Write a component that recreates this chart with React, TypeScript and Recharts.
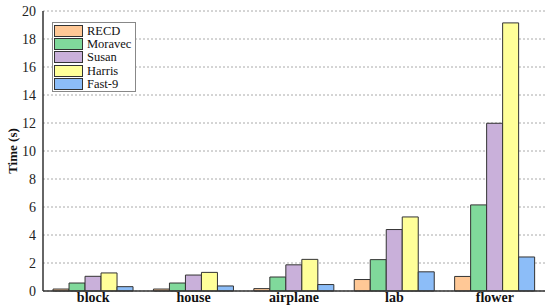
import { BarChart, Bar, XAxis, YAxis, CartesianGrid } from "recharts";

const CATEGORIES = ["block", "house", "airplane", "lab", "flower"];
const RECD = [0.14, 0.14, 0.17, 0.82, 1.04];
const MORAVEC = [0.57, 0.57, 1.0, 2.24, 6.15];
const SUSAN = [1.05, 1.14, 1.87, 4.39, 11.98];
const HARRIS = [1.29, 1.33, 2.26, 5.29, 19.15];
const FAST9 = [0.31, 0.36, 0.46, 1.37, 2.43];
const Y_TICKS = [0, 2, 4, 6, 8, 10, 12, 14, 16, 18, 20];

const SERIES = [
  { key: "RECD", values: RECD, color: "#FFC896" },
  { key: "Moravec", values: MORAVEC, color: "#80D99B" },
  { key: "Susan", values: SUSAN, color: "#C9B0DA" },
  { key: "Harris", values: HARRIS, color: "#FFFF99" },
  { key: "Fast-9", values: FAST9, color: "#8CBDF8" },
];

const data = CATEGORIES.map((name, i) => {
  const row: Record<string, string | number> = { name };
  SERIES.forEach((s) => (row[s.key] = s.values[i]));
  return row;
});

const FONT = "Liberation Serif, serif";
const AXIS = "#333";

const NoTick = () => <g />;

// legend drawn as an overlay so recharts doesn't reserve space for it
function LegendBox() {
  return (
    <div style={{ position: "absolute", left: 52, top: 22, border: "1px solid #888", background: "#fff", padding: "1px 4px 0 1px", fontFamily: FONT, fontSize: 12.5, color: "#111" }}>
      {SERIES.map((s) => (
        <div key={s.key} style={{ display: "flex", alignItems: "center", height: 13.4, lineHeight: "12px", whiteSpace: "nowrap" }}>
          <span style={{ width: 27, height: 10, background: s.color, border: "1px solid #333", marginRight: 4, flex: "none" }} />
          <span>{s.key}</span>
        </div>
      ))}
    </div>
  );
}

export default function App() {
  return (
    <div style={{ position: "absolute", left: 0, top: 0, width: 550, height: 308, background: "#fff" }}>
      <BarChart width={550} height={308} data={data} margin={{ top: 11, right: 5, bottom: 0, left: 0 }} barCategoryGap="10%" barGap={0}>
        <CartesianGrid xAxisId="bottom" yAxisId="left" vertical={false} stroke="#aaa" strokeDasharray="2 2" />
        <XAxis dataKey="name" xAxisId="bottom" height={17} tickLine={false} tickSize={0} axisLine={{ stroke: AXIS, strokeWidth: 1.5 }} tick={{ fontFamily: FONT, fontSize: 14, fontWeight: 700, fill: "#111" }} tickMargin={1} interval={0} />
        <XAxis dataKey="name" xAxisId="top" orientation="top" mirror height={0} axisLine={{ stroke: AXIS, strokeWidth: 1.5 }} tickLine={{ stroke: AXIS }} tickSize={5} tick={NoTick} interval={0} />
        <YAxis yAxisId="left" width={43} domain={[0, 20]} ticks={Y_TICKS} interval={0} tickLine={false} tickSize={0} axisLine={{ stroke: AXIS, strokeWidth: 1.5 }} tickMargin={7} tick={{ fontFamily: FONT, fontSize: 14, fill: "#222" }}
          label={({ viewBox }: any) => (
            <text transform={`translate(12, ${viewBox.y + viewBox.height / 2}) rotate(-90)`} textAnchor="middle" dominantBaseline="central" fontFamily={FONT} fontSize={13} fontWeight={700} fill="#111">Time (s)</text>
          )}
        />
        <YAxis yAxisId="leftIn" mirror width={0} domain={[0, 20]} ticks={Y_TICKS} interval={0} axisLine={false} tickLine={{ stroke: AXIS }} tickSize={5} tick={NoTick} />
        <YAxis yAxisId="right" orientation="right" mirror width={0} domain={[0, 20]} ticks={Y_TICKS} interval={0} axisLine={{ stroke: AXIS, strokeWidth: 1.5 }} tickLine={{ stroke: AXIS }} tickSize={5} tick={NoTick} />
        {SERIES.map((s) => (
          <Bar key={s.key} dataKey={s.key} xAxisId="bottom" yAxisId="left" fill={s.color} stroke="#333" strokeWidth={1} isAnimationActive={false} />
        ))}
      </BarChart>
      <LegendBox />
    </div>
  );
}
